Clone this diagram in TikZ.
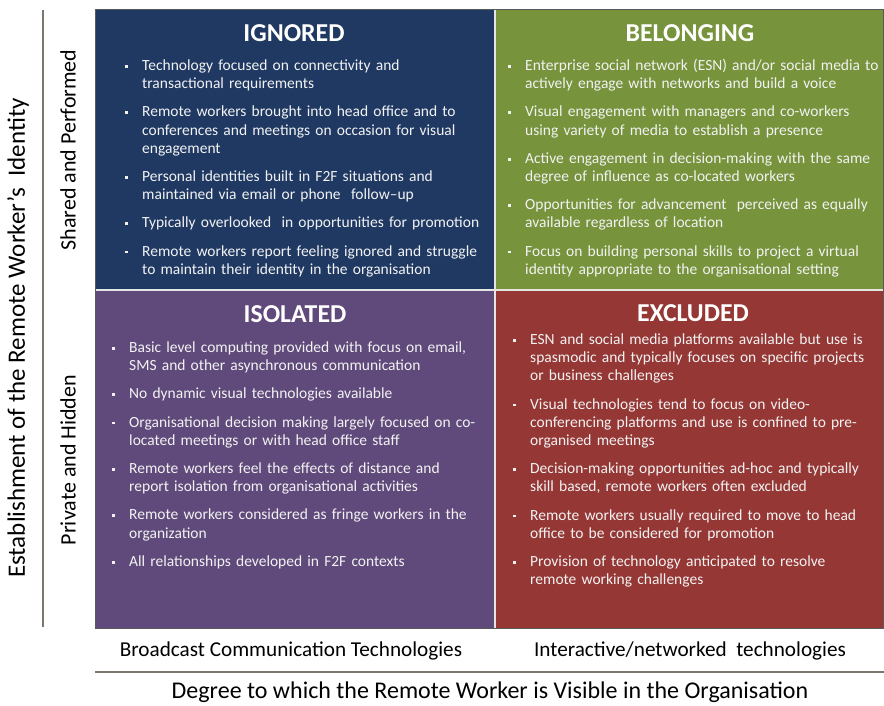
\documentclass[tikz,border=0pt]{standalone}
\usepackage{fontspec}
\setmainfont{Carlito}
\usepackage{tikz}

% one bullet point of a quadrant list
\newcommand\quaditem[1]{\par\noindent\llap{\rule[2.7pt]{2.8pt}{2.8pt}\hspace{14pt}}#1\par}

\begin{document}
\begin{tikzpicture}
	[x=1pt,y=-1pt,line cap=butt,
	%Styles
	quad title/.style={text=white,font=\fontsize{25.8}{28}\selectfont\bfseries,inner sep=0pt},
	quad list/.style={anchor=north west,text=textgrey,text width=400pt,inner sep=0pt,
		font=\fontsize{15.5}{18.2}\selectfont,
		execute at begin node={\setlength\parskip{10pt}\raggedright\hyphenpenalty=10000}},
	axis line/.style={draw=axisgrey,line width=2pt},
	row label/.style={rotate=90,font=\fontsize{22}{24}\selectfont,inner sep=0pt},
	column label/.style={font=\fontsize{21.2}{24}\selectfont,inner sep=0pt},
	axis title/.style={font=\fontsize{24}{27}\selectfont,inner sep=0pt}
	]
	
	%Colors
	\definecolor{ignoredblue}{RGB}{31,57,99}
	\definecolor{belonginggreen}{RGB}{119,147,60}
	\definecolor{isolatedpurple}{RGB}{96,74,123}
	\definecolor{excludedred}{RGB}{149,55,53}
	\definecolor{textgrey}{RGB}{242,242,242}
	\definecolor{axisgrey}{RGB}{125,118,110}
	
	\useasboundingbox (0,0) rectangle (884,705);
	
	%The four quadrants
	\fill[ignoredblue] (95,9) rectangle (495,290);
	\fill[belonginggreen] (495,9) rectangle (883,290);
	\fill[isolatedpurple] (95,290) rectangle (495,628);
	\fill[excludedred] (495,290) rectangle (883,628);
	\draw[white!80!gray,line width=1.5pt] (495,9) -- (495,628) (95,290) -- (883,290);
	\draw[black!65,line width=0.9pt] (95,9) rectangle (883,628);
	
	%Titles
	\node[quad title] (ignored) at (294,33) {IGNORED};
	\node[quad title] (belonging) at (690,33) {BELONGING};
	\node[quad title] (isolated) at (295,314) {ISOLATED};
	\node[quad title] (excluded) at (693,313) {EXCLUDED};
	
	%Lists
	\node[quad list] (ignoredlist) at (142,42) {%
		\quaditem{Technology focused on connectivity and\newline transactional requirements}
		\quaditem{Remote workers brought into head office and to\newline conferences and meetings on occasion for visual\newline engagement}
		\quaditem{Personal identities built in F2F situations and\newline maintained via email or phone\ \ follow–up}
		\quaditem{Typically overlooked\ \ in opportunities for promotion}
		\quaditem{Remote workers report feeling ignored and struggle\newline to maintain their identity in the organisation}};
	
	\node[quad list] (belonginglist) at (525,42) {%
		\quaditem{Enterprise social network (ESN) and/or social media to\newline actively engage with networks and build a voice}
		\quaditem{Visual engagement with managers and co-workers\newline using variety of media to establish a presence}
		\quaditem{Active engagement in decision-making with the same\newline degree of influence as co-located workers}
		\quaditem{Opportunities for advancement\ \ perceived as equally\newline available regardless of location}
		\quaditem{Focus on building personal skills to project a virtual\newline identity appropriate to the organisational setting}};
	
	\node[quad list] (isolatedlist) at (129,324) {%
		\quaditem{Basic level computing provided with focus on email,\newline SMS and other asynchronous communication}
		\quaditem{No dynamic visual technologies available}
		\quaditem{Organisational decision making largely focused on co-\newline located meetings or with head office staff}
		\quaditem{Remote workers feel the effects of distance and\newline report isolation from organisational activities}
		\quaditem{Remote workers considered as fringe workers in the\newline organization}
		\quaditem{All relationships developed in F2F contexts}};
	
	\node[quad list] (excludedlist) at (530,316) {%
		\quaditem{ESN and social media platforms available but use is\newline spasmodic and typically focuses on specific projects\newline or business challenges}
		\quaditem{Visual technologies tend to focus on video-\newline conferencing platforms and use is confined to pre-\newline organised meetings}
		\quaditem{Decision-making opportunities ad-hoc and typically\newline skill based, remote workers often excluded}
		\quaditem{Remote workers usually required to move to head\newline office to be considered for promotion}
		\quaditem{Provision of technology anticipated to resolve\newline remote working challenges}};
	
	%Axes
	\draw[axis line] (43,10) -- (43,627);
	\draw[axis line] (95,672) -- (884,672);
	
	\node[row label] (shared) at (68,150) {Shared and Performed};
	\node[row label] (private) at (68,460) {Private and Hidden};
	\node[axis title,rotate=90,font=\fontsize{25}{28}\selectfont] (identity) at (18,338) {Establishment of the Remote Worker’s\ \ Identity};
	
	\node[column label] (broadcast) at (291,651) {Broadcast Communication Technologies};
	\node[column label] (interactive) at (690,651) {Interactive/networked\ \ technologies};
	\node[axis title] (visible) at (490,692) {Degree to which the Remote Worker is Visible in the Organisation};
\end{tikzpicture}
\end{document}
